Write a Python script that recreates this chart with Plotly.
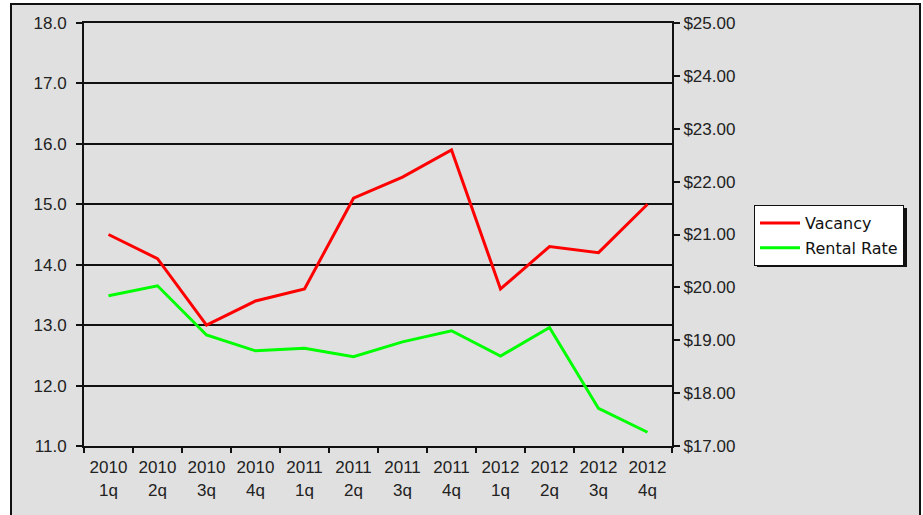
import plotly.graph_objects as go

categories = ["2010<br>1q", "2010<br>2q", "2010<br>3q", "2010<br>4q",
              "2011<br>1q", "2011<br>2q", "2011<br>3q", "2011<br>4q",
              "2012<br>1q", "2012<br>2q", "2012<br>3q", "2012<br>4q"]
vacancy = [14.5, 14.1, 13.0, 13.4, 13.6, 15.1, 15.45, 15.9, 13.6, 14.3, 14.2, 15.0]
rental_rate = [19.84, 20.03, 19.10, 18.80, 18.85, 18.69, 18.97, 19.18, 18.70, 19.24, 17.71, 17.26]

L, R, T, B = 84, 251, 23, 69
W, H = 923, 515
pw, ph = W - L - R, H - T - B

def px(x):
    return (x - L) / pw

def py(y):
    return (H - B - y) / ph

FAM = "Liberation Sans, Arial, sans-serif"
font = dict(family=FAM, size=17, color="#222222")

fig = go.Figure()
fig.add_trace(go.Scatter(x=categories, y=vacancy, name="Vacancy", mode="lines",
                         line=dict(color="#ff0000", width=3), legendgroup="a"))
fig.add_trace(go.Scatter(x=categories, y=rental_rate, name="Rental Rate", mode="lines",
                         line=dict(color="#00ff00", width=3), yaxis="y2", legendgroup="b"))

# outer chart frame
fig.add_shape(type="rect", xref="paper", yref="paper",
              x0=px(11), x1=px(920), y0=py(540), y1=py(4),
              fillcolor="#e0e0e0", line=dict(color="#111111", width=2), layer="below")
# legend drop shadow
fig.add_shape(type="rect", xref="paper", yref="paper",
              x0=px(757), x1=px(907), y0=py(267), y1=py(208),
              fillcolor="#111111", line=dict(width=0), layer="above")

fig.update_layout(
    width=W, height=H,
    margin=dict(l=L, r=R, t=T, b=B, autoexpand=False),
    paper_bgcolor="white",
    plot_bgcolor="rgba(0,0,0,0)",
    font=font,
    showlegend=True,
    legend=dict(x=px(754), y=py(205), xanchor="left", yanchor="top",
                bgcolor="white", bordercolor="#111111", borderwidth=1,
                font=dict(family="DejaVu Sans, sans-serif", size=16, color="#111111"),
                traceorder="grouped", tracegroupgap=1, itemwidth=40),
    xaxis=dict(type="category", tickson="boundaries", ticks="outside", ticklen=5,
               tickcolor="#111111", tickwidth=2, showgrid=False,
               showline=True, linecolor="#111111", linewidth=2, mirror=True,
               range=[-0.5, 11.5], tickfont=font, ticklabelstandoff=5),
    yaxis=dict(range=[11, 18], dtick=1, tickformat=".1f", ticks="outside", ticklen=6,
               tickcolor="#111111", tickwidth=2, showgrid=True, gridcolor="#111111",
               gridwidth=2, showline=True, linecolor="#111111", linewidth=2,
               zeroline=False, tickfont=font, ticklabelstandoff=6),
    yaxis2=dict(range=[17, 25], dtick=1, tickformat="$.2f", overlaying="y", side="right",
                ticks="outside", ticklen=6, tickcolor="#111111", tickwidth=2,
                showgrid=False, showline=True, linecolor="#111111", linewidth=2,
                zeroline=False, tickfont=font, ticklabelstandoff=0),
)

fig.write_html("out.html", config={"displayModeBar": False},
               post_script="document.body.style.margin='0';")
